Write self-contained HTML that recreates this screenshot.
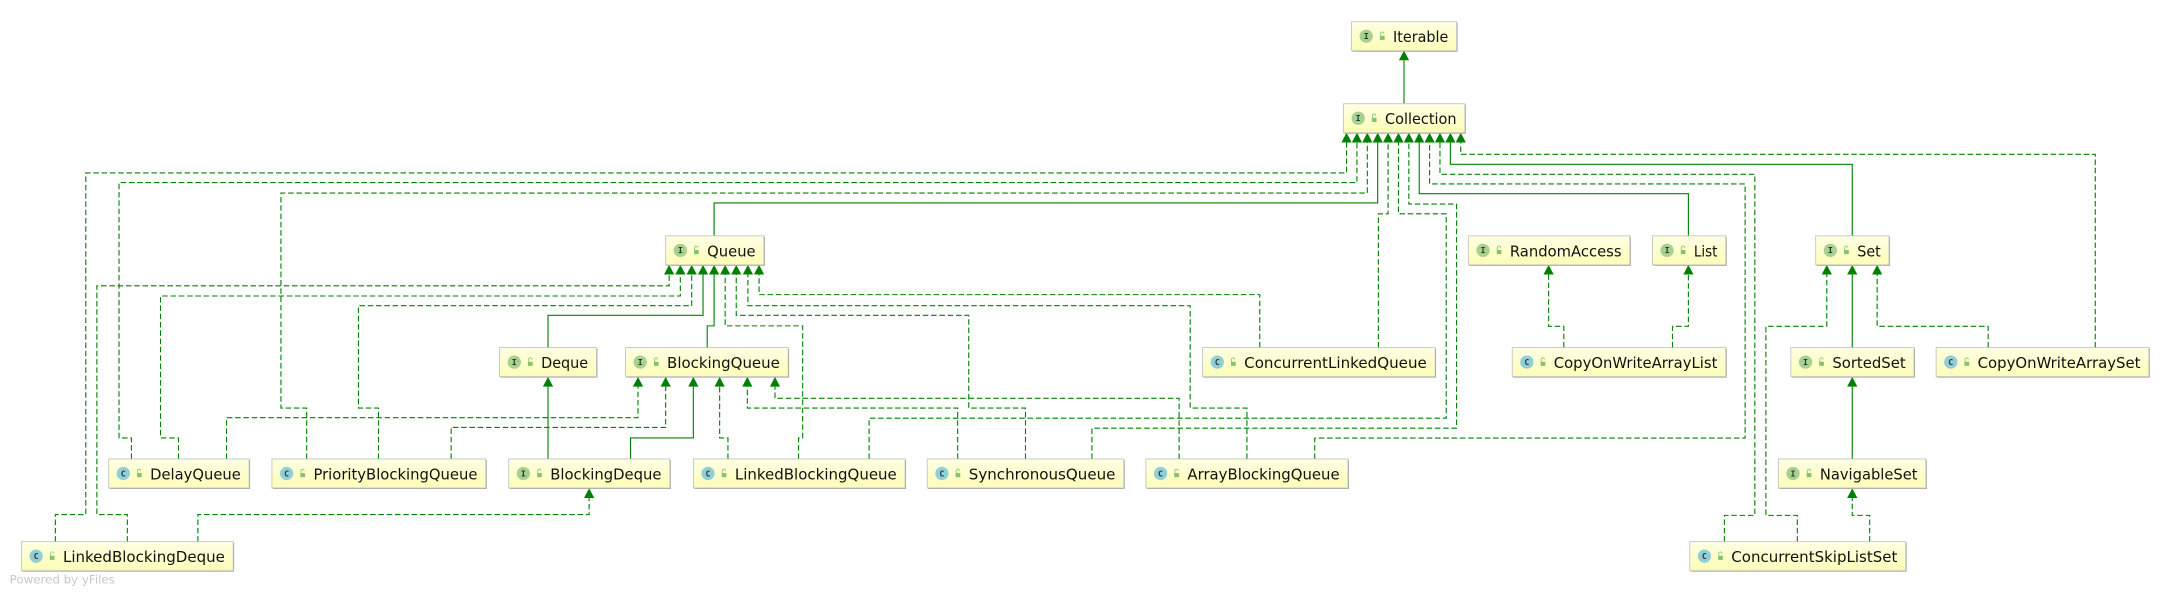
<!DOCTYPE html>
<html><head><meta charset="utf-8"><style>
html,body{margin:0;padding:0;background:#fff;}
svg{display:block;}
.n{font-family:"DejaVu Sans","Liberation Sans",sans-serif;font-size:11px;fill:#111;}
.ic{font-family:"DejaVu Sans Mono","Liberation Mono",monospace;font-size:6px;fill:#333;text-anchor:middle;font-weight:bold;}
.s{fill:none;stroke:#008000;stroke-width:0.8;}
.d{fill:none;stroke:#008000;stroke-width:0.8;stroke-dasharray:4 2;}
.a{fill:#008000;}
</style></head><body>
<svg width="2170" height="592" viewBox="0 0 1568 428" preserveAspectRatio="none" xmlns="http://www.w3.org/2000/svg">
<defs>
<linearGradient id="g" x1="0" y1="0" x2="0" y2="1"><stop offset="0" stop-color="#ffffe4"/><stop offset="1" stop-color="#fdfdb8"/></linearGradient>
</defs>

<!-- edges -->
<polyline class="s" points="1014.5,75 1014.5,43.6"/>
<!-- to Collection -->
<polyline class="d" points="40,391.6 40,372 62,372 62,125 973,125 973,103"/>
<polyline class="d" points="95,331.8 95,316.6 86,316.6 86,132 980.5,132 980.5,103"/>
<polyline class="d" points="221.6,331.8 221.6,295 203,295 203,139.6 988,139.6 988,103"/>
<polyline class="s" points="516,170.5 516,146.7 995.5,146.7 995.5,103"/>
<polyline class="d" points="996,251.3 996,154.6 1003,154.6 1003,103"/>
<polyline class="d" points="628,331.8 628,302.3 1045,302.3 1045,154.6 1010.5,154.6 1010.5,103"/>
<polyline class="d" points="789,331.8 789,309.6 1052.5,309.6 1052.5,147.5 1018,147.5 1018,103"/>
<polyline class="s" points="1220,170.5 1220,140 1025.5,140 1025.5,103"/>
<polyline class="d" points="950,331.8 950,316.7 1261,316.7 1261,133 1033,133 1033,103"/>
<polyline class="d" points="1246,391.6 1246,372.6 1268,372.6 1268,126 1040.5,126 1040.5,103"/>
<polyline class="s" points="1338.4,170.5 1338.4,118.8 1048,118.8 1048,103"/>
<polyline class="d" points="1514,251.3 1514,111.6 1055.5,111.6 1055.5,103"/>
<!-- to Queue -->
<polyline class="d" points="92,391.6 92,372 70,372 70,206.6 483.5,206.6 483.5,198.5"/>
<polyline class="d" points="129,331.8 129,316.6 116,316.6 116,214 491.6,214 491.6,198.5"/>
<polyline class="d" points="273.5,331.8 273.5,295 259,295 259,221 499.8,221 499.8,198.5"/>
<polyline class="s" points="396,251.3 396,228 508,228 508,198.5"/>
<polyline class="s" points="511,251.3 511,235.6 516,235.6 516,198.5"/>
<polyline class="d" points="577,331.8 577,316.6 580,316.6 580,235.6 524,235.6 524,198.5"/>
<polyline class="d" points="741,331.8 741,295 700,295 700,228 532,228 532,198.5"/>
<polyline class="d" points="901,331.8 901,295 860,295 860,221 540.4,221 540.4,198.5"/>
<polyline class="d" points="910.3,251.3 910.3,213 548.5,213 548.5,198.5"/>
<!-- to BlockingQueue -->
<polyline class="d" points="163.7,331.8 163.7,302 461,302 461,279.5"/>
<polyline class="d" points="326,331.8 326,309 481,309 481,279.5"/>
<polyline class="s" points="455.6,331.8 455.6,316.6 501,316.6 501,279.5"/>
<polyline class="d" points="526,331.8 526,316.6 520,316.6 520,279.5"/>
<polyline class="d" points="692,331.8 692,295 540,295 540,279.5"/>
<polyline class="d" points="852,331.8 852,288 560,288 560,279.5"/>
<!-- Deque, BlockingDeque -->
<polyline class="s" points="396,331.8 396,279.5"/>
<polyline class="d" points="143,391.6 143,372 425.7,372 425.7,360"/>
<!-- RandomAccess, List -->
<polyline class="d" points="1130,251.3 1130,235.9 1119,235.9 1119,198.5"/>
<polyline class="d" points="1208.5,251.3 1208.5,235.9 1220,235.9 1220,198.5"/>
<!-- Set -->
<polyline class="d" points="1298.7,391.6 1298.7,372.6 1276,372.6 1276,235.9 1320,235.9 1320,198.5"/>
<polyline class="s" points="1338.4,251.3 1338.4,198.5"/>
<polyline class="d" points="1436.6,251.3 1436.6,235.9 1356.4,235.9 1356.4,198.5"/>
<polyline class="s" points="1338.4,331.8 1338.4,279.5"/>
<polyline class="d" points="1351,391.6 1351,372.6 1338.4,372.6 1338.4,360"/>

<!-- arrowheads -->
<g class="a">
<path d="M1014.5,36.6 l-3.7,7 h7.4z"/>
<path d="M973,96 l-3.7,7 h7.4z"/><path d="M980.5,96 l-3.7,7 h7.4z"/><path d="M988,96 l-3.7,7 h7.4z"/><path d="M995.5,96 l-3.7,7 h7.4z"/><path d="M1003,96 l-3.7,7 h7.4z"/><path d="M1010.5,96 l-3.7,7 h7.4z"/><path d="M1018,96 l-3.7,7 h7.4z"/><path d="M1025.5,96 l-3.7,7 h7.4z"/><path d="M1033,96 l-3.7,7 h7.4z"/><path d="M1040.5,96 l-3.7,7 h7.4z"/><path d="M1048,96 l-3.7,7 h7.4z"/><path d="M1055.5,96 l-3.7,7 h7.4z"/>
<path d="M483.5,191.5 l-3.7,7 h7.4z"/><path d="M491.6,191.5 l-3.7,7 h7.4z"/><path d="M499.8,191.5 l-3.7,7 h7.4z"/><path d="M508,191.5 l-3.7,7 h7.4z"/><path d="M516,191.5 l-3.7,7 h7.4z"/><path d="M524,191.5 l-3.7,7 h7.4z"/><path d="M532,191.5 l-3.7,7 h7.4z"/><path d="M540.4,191.5 l-3.7,7 h7.4z"/><path d="M548.5,191.5 l-3.7,7 h7.4z"/>
<path d="M461,272.5 l-3.7,7 h7.4z"/><path d="M481,272.5 l-3.7,7 h7.4z"/><path d="M501,272.5 l-3.7,7 h7.4z"/><path d="M520,272.5 l-3.7,7 h7.4z"/><path d="M540,272.5 l-3.7,7 h7.4z"/><path d="M560,272.5 l-3.7,7 h7.4z"/>
<path d="M396,272.5 l-3.7,7 h7.4z"/>
<path d="M425.7,353 l-3.7,7 h7.4z"/>
<path d="M1119,191.5 l-3.7,7 h7.4z"/><path d="M1220,191.5 l-3.7,7 h7.4z"/>
<path d="M1320,191.5 l-3.7,7 h7.4z"/><path d="M1338.4,191.5 l-3.7,7 h7.4z"/><path d="M1356.4,191.5 l-3.7,7 h7.4z"/>
<path d="M1338.4,272.5 l-3.7,7 h7.4z"/>
<path d="M1338.4,353 l-3.7,7 h7.4z"/>
</g>

<!-- nodes -->
<g id="nodes"></g>
<g>
<!-- template per node -->
<g transform="translate(976.6,15.7)"><rect x="0.7" y="0.7" width="75.9" height="21" fill="#a0a0a0"/><rect width="75.9" height="21" fill="url(#g)" stroke="#c0c0c0" stroke-width="0.6"/><circle cx="10.6" cy="10.5" r="4.8" fill="#a7d18e"/><text class="ic" x="10.6" y="12.6">I</text><rect x="20.5" y="10.2" width="3.4" height="3" fill="#86c46a"/><path d="M20.9,10.2 v-1.6 a1.2,1.2 0 0 1 2.4,0" fill="none" stroke="#86c46a" stroke-width="0.6"/><text class="n" x="30" y="14.8" textLength="39.9" lengthAdjust="spacingAndGlyphs">Iterable</text></g>

<g transform="translate(970.8,75)"><rect x="0.7" y="0.7" width="87.7" height="21" fill="#a0a0a0"/><rect width="87.7" height="21" fill="url(#g)" stroke="#c0c0c0" stroke-width="0.6"/><circle cx="10.6" cy="10.5" r="4.8" fill="#a7d18e"/><text class="ic" x="10.6" y="12.6">I</text><rect x="20.5" y="10.2" width="3.4" height="3" fill="#86c46a"/><path d="M20.9,10.2 v-1.6 a1.2,1.2 0 0 1 2.4,0" fill="none" stroke="#86c46a" stroke-width="0.6"/><text class="n" x="30" y="14.8" textLength="51.7" lengthAdjust="spacingAndGlyphs">Collection</text></g>

<g transform="translate(481,170.5)"><rect x="0.7" y="0.7" width="71" height="21" fill="#a0a0a0"/><rect width="71" height="21" fill="url(#g)" stroke="#c0c0c0" stroke-width="0.6"/><circle cx="10.6" cy="10.5" r="4.8" fill="#a7d18e"/><text class="ic" x="10.6" y="12.6">I</text><rect x="20.5" y="10.2" width="3.4" height="3" fill="#86c46a"/><path d="M20.9,10.2 v-1.6 a1.2,1.2 0 0 1 2.4,0" fill="none" stroke="#86c46a" stroke-width="0.6"/><text class="n" x="30" y="14.8" textLength="35" lengthAdjust="spacingAndGlyphs">Queue</text></g>

<g transform="translate(1061,170.5)"><rect x="0.7" y="0.7" width="116.7" height="21" fill="#a0a0a0"/><rect width="116.7" height="21" fill="url(#g)" stroke="#c0c0c0" stroke-width="0.6"/><circle cx="10.6" cy="10.5" r="4.8" fill="#a7d18e"/><text class="ic" x="10.6" y="12.6">I</text><rect x="20.5" y="10.2" width="3.4" height="3" fill="#86c46a"/><path d="M20.9,10.2 v-1.6 a1.2,1.2 0 0 1 2.4,0" fill="none" stroke="#86c46a" stroke-width="0.6"/><text class="n" x="30" y="14.8" textLength="80.7" lengthAdjust="spacingAndGlyphs">RandomAccess</text></g>

<g transform="translate(1194,170.5)"><rect x="0.7" y="0.7" width="53" height="21" fill="#a0a0a0"/><rect width="53" height="21" fill="url(#g)" stroke="#c0c0c0" stroke-width="0.6"/><circle cx="10.6" cy="10.5" r="4.8" fill="#a7d18e"/><text class="ic" x="10.6" y="12.6">I</text><rect x="20.5" y="10.2" width="3.4" height="3" fill="#86c46a"/><path d="M20.9,10.2 v-1.6 a1.2,1.2 0 0 1 2.4,0" fill="none" stroke="#86c46a" stroke-width="0.6"/><text class="n" x="30" y="14.8" textLength="17" lengthAdjust="spacingAndGlyphs">List</text></g>

<g transform="translate(1312,170.5)"><rect x="0.7" y="0.7" width="53" height="21" fill="#a0a0a0"/><rect width="53" height="21" fill="url(#g)" stroke="#c0c0c0" stroke-width="0.6"/><circle cx="10.6" cy="10.5" r="4.8" fill="#a7d18e"/><text class="ic" x="10.6" y="12.6">I</text><rect x="20.5" y="10.2" width="3.4" height="3" fill="#86c46a"/><path d="M20.9,10.2 v-1.6 a1.2,1.2 0 0 1 2.4,0" fill="none" stroke="#86c46a" stroke-width="0.6"/><text class="n" x="30" y="14.8" textLength="17" lengthAdjust="spacingAndGlyphs">Set</text></g>

<g transform="translate(361,251.3)"><rect x="0.7" y="0.7" width="70" height="21" fill="#a0a0a0"/><rect width="70" height="21" fill="url(#g)" stroke="#c0c0c0" stroke-width="0.6"/><circle cx="10.6" cy="10.5" r="4.8" fill="#a7d18e"/><text class="ic" x="10.6" y="12.6">I</text><rect x="20.5" y="10.2" width="3.4" height="3" fill="#86c46a"/><path d="M20.9,10.2 v-1.6 a1.2,1.2 0 0 1 2.4,0" fill="none" stroke="#86c46a" stroke-width="0.6"/><text class="n" x="30" y="14.8" textLength="34" lengthAdjust="spacingAndGlyphs">Deque</text></g>

<g transform="translate(452,251.3)"><rect x="0.7" y="0.7" width="117.5" height="21" fill="#a0a0a0"/><rect width="117.5" height="21" fill="url(#g)" stroke="#c0c0c0" stroke-width="0.6"/><circle cx="10.6" cy="10.5" r="4.8" fill="#a7d18e"/><text class="ic" x="10.6" y="12.6">I</text><rect x="20.5" y="10.2" width="3.4" height="3" fill="#86c46a"/><path d="M20.9,10.2 v-1.6 a1.2,1.2 0 0 1 2.4,0" fill="none" stroke="#86c46a" stroke-width="0.6"/><text class="n" x="30" y="14.8" textLength="81.5" lengthAdjust="spacingAndGlyphs">BlockingQueue</text></g>

<g transform="translate(869,251.3)"><rect x="0.7" y="0.7" width="168" height="21" fill="#a0a0a0"/><rect width="168" height="21" fill="url(#g)" stroke="#c0c0c0" stroke-width="0.6"/><circle cx="10.6" cy="10.5" r="4.8" fill="#8fd0d8"/><text class="ic" x="10.6" y="12.6">C</text><rect x="20.5" y="10.2" width="3.4" height="3" fill="#86c46a"/><path d="M20.9,10.2 v-1.6 a1.2,1.2 0 0 1 2.4,0" fill="none" stroke="#86c46a" stroke-width="0.6"/><text class="n" x="30" y="14.8" textLength="132" lengthAdjust="spacingAndGlyphs">ConcurrentLinkedQueue</text></g>

<g transform="translate(1092.7,251.3)"><rect x="0.7" y="0.7" width="154.3" height="21" fill="#a0a0a0"/><rect width="154.3" height="21" fill="url(#g)" stroke="#c0c0c0" stroke-width="0.6"/><circle cx="10.6" cy="10.5" r="4.8" fill="#8fd0d8"/><text class="ic" x="10.6" y="12.6">C</text><rect x="20.5" y="10.2" width="3.4" height="3" fill="#86c46a"/><path d="M20.9,10.2 v-1.6 a1.2,1.2 0 0 1 2.4,0" fill="none" stroke="#86c46a" stroke-width="0.6"/><text class="n" x="30" y="14.8" textLength="118.3" lengthAdjust="spacingAndGlyphs">CopyOnWriteArrayList</text></g>

<g transform="translate(1294,251.3)"><rect x="0.7" y="0.7" width="89" height="21" fill="#a0a0a0"/><rect width="89" height="21" fill="url(#g)" stroke="#c0c0c0" stroke-width="0.6"/><circle cx="10.6" cy="10.5" r="4.8" fill="#a7d18e"/><text class="ic" x="10.6" y="12.6">I</text><rect x="20.5" y="10.2" width="3.4" height="3" fill="#86c46a"/><path d="M20.9,10.2 v-1.6 a1.2,1.2 0 0 1 2.4,0" fill="none" stroke="#86c46a" stroke-width="0.6"/><text class="n" x="30" y="14.8" textLength="53" lengthAdjust="spacingAndGlyphs">SortedSet</text></g>

<g transform="translate(1399,251.3)"><rect x="0.7" y="0.7" width="153.7" height="21" fill="#a0a0a0"/><rect width="153.7" height="21" fill="url(#g)" stroke="#c0c0c0" stroke-width="0.6"/><circle cx="10.6" cy="10.5" r="4.8" fill="#8fd0d8"/><text class="ic" x="10.6" y="12.6">C</text><rect x="20.5" y="10.2" width="3.4" height="3" fill="#86c46a"/><path d="M20.9,10.2 v-1.6 a1.2,1.2 0 0 1 2.4,0" fill="none" stroke="#86c46a" stroke-width="0.6"/><text class="n" x="30" y="14.8" textLength="117.7" lengthAdjust="spacingAndGlyphs">CopyOnWriteArraySet</text></g>

<g transform="translate(78.5,331.8)"><rect x="0.7" y="0.7" width="101.5" height="21" fill="#a0a0a0"/><rect width="101.5" height="21" fill="url(#g)" stroke="#c0c0c0" stroke-width="0.6"/><circle cx="10.6" cy="10.5" r="4.8" fill="#8fd0d8"/><text class="ic" x="10.6" y="12.6">C</text><rect x="20.5" y="10.2" width="3.4" height="3" fill="#86c46a"/><path d="M20.9,10.2 v-1.6 a1.2,1.2 0 0 1 2.4,0" fill="none" stroke="#86c46a" stroke-width="0.6"/><text class="n" x="30" y="14.8" textLength="65.5" lengthAdjust="spacingAndGlyphs">DelayQueue</text></g>

<g transform="translate(196.5,331.8)"><rect x="0.7" y="0.7" width="154.5" height="21" fill="#a0a0a0"/><rect width="154.5" height="21" fill="url(#g)" stroke="#c0c0c0" stroke-width="0.6"/><circle cx="10.6" cy="10.5" r="4.8" fill="#8fd0d8"/><text class="ic" x="10.6" y="12.6">C</text><rect x="20.5" y="10.2" width="3.4" height="3" fill="#86c46a"/><path d="M20.9,10.2 v-1.6 a1.2,1.2 0 0 1 2.4,0" fill="none" stroke="#86c46a" stroke-width="0.6"/><text class="n" x="30" y="14.8" textLength="118.5" lengthAdjust="spacingAndGlyphs">PriorityBlockingQueue</text></g>

<g transform="translate(367.6,331.8)"><rect x="0.7" y="0.7" width="116.4" height="21" fill="#a0a0a0"/><rect width="116.4" height="21" fill="url(#g)" stroke="#c0c0c0" stroke-width="0.6"/><circle cx="10.6" cy="10.5" r="4.8" fill="#a7d18e"/><text class="ic" x="10.6" y="12.6">I</text><rect x="20.5" y="10.2" width="3.4" height="3" fill="#86c46a"/><path d="M20.9,10.2 v-1.6 a1.2,1.2 0 0 1 2.4,0" fill="none" stroke="#86c46a" stroke-width="0.6"/><text class="n" x="30" y="14.8" textLength="80.4" lengthAdjust="spacingAndGlyphs">BlockingDeque</text></g>

<g transform="translate(501,331.8)"><rect x="0.7" y="0.7" width="153" height="21" fill="#a0a0a0"/><rect width="153" height="21" fill="url(#g)" stroke="#c0c0c0" stroke-width="0.6"/><circle cx="10.6" cy="10.5" r="4.8" fill="#8fd0d8"/><text class="ic" x="10.6" y="12.6">C</text><rect x="20.5" y="10.2" width="3.4" height="3" fill="#86c46a"/><path d="M20.9,10.2 v-1.6 a1.2,1.2 0 0 1 2.4,0" fill="none" stroke="#86c46a" stroke-width="0.6"/><text class="n" x="30" y="14.8" textLength="117" lengthAdjust="spacingAndGlyphs">LinkedBlockingQueue</text></g>

<g transform="translate(670,331.8)"><rect x="0.7" y="0.7" width="142" height="21" fill="#a0a0a0"/><rect width="142" height="21" fill="url(#g)" stroke="#c0c0c0" stroke-width="0.6"/><circle cx="10.6" cy="10.5" r="4.8" fill="#8fd0d8"/><text class="ic" x="10.6" y="12.6">C</text><rect x="20.5" y="10.2" width="3.4" height="3" fill="#86c46a"/><path d="M20.9,10.2 v-1.6 a1.2,1.2 0 0 1 2.4,0" fill="none" stroke="#86c46a" stroke-width="0.6"/><text class="n" x="30" y="14.8" textLength="106" lengthAdjust="spacingAndGlyphs">SynchronousQueue</text></g>

<g transform="translate(828,331.8)"><rect x="0.7" y="0.7" width="146" height="21" fill="#a0a0a0"/><rect width="146" height="21" fill="url(#g)" stroke="#c0c0c0" stroke-width="0.6"/><circle cx="10.6" cy="10.5" r="4.8" fill="#8fd0d8"/><text class="ic" x="10.6" y="12.6">C</text><rect x="20.5" y="10.2" width="3.4" height="3" fill="#86c46a"/><path d="M20.9,10.2 v-1.6 a1.2,1.2 0 0 1 2.4,0" fill="none" stroke="#86c46a" stroke-width="0.6"/><text class="n" x="30" y="14.8" textLength="110" lengthAdjust="spacingAndGlyphs">ArrayBlockingQueue</text></g>

<g transform="translate(1285,331.8)"><rect x="0.7" y="0.7" width="106.6" height="21" fill="#a0a0a0"/><rect width="106.6" height="21" fill="url(#g)" stroke="#c0c0c0" stroke-width="0.6"/><circle cx="10.6" cy="10.5" r="4.8" fill="#a7d18e"/><text class="ic" x="10.6" y="12.6">I</text><rect x="20.5" y="10.2" width="3.4" height="3" fill="#86c46a"/><path d="M20.9,10.2 v-1.6 a1.2,1.2 0 0 1 2.4,0" fill="none" stroke="#86c46a" stroke-width="0.6"/><text class="n" x="30" y="14.8" textLength="70.6" lengthAdjust="spacingAndGlyphs">NavigableSet</text></g>

<g transform="translate(15.5,391.6)"><rect x="0.7" y="0.7" width="153" height="21" fill="#a0a0a0"/><rect width="153" height="21" fill="url(#g)" stroke="#c0c0c0" stroke-width="0.6"/><circle cx="10.6" cy="10.5" r="4.8" fill="#8fd0d8"/><text class="ic" x="10.6" y="12.6">C</text><rect x="20.5" y="10.2" width="3.4" height="3" fill="#86c46a"/><path d="M20.9,10.2 v-1.6 a1.2,1.2 0 0 1 2.4,0" fill="none" stroke="#86c46a" stroke-width="0.6"/><text class="n" x="30" y="14.8" textLength="117" lengthAdjust="spacingAndGlyphs">LinkedBlockingDeque</text></g>

<g transform="translate(1221,391.6)"><rect x="0.7" y="0.7" width="156" height="21" fill="#a0a0a0"/><rect width="156" height="21" fill="url(#g)" stroke="#c0c0c0" stroke-width="0.6"/><circle cx="10.6" cy="10.5" r="4.8" fill="#8fd0d8"/><text class="ic" x="10.6" y="12.6">C</text><rect x="20.5" y="10.2" width="3.4" height="3" fill="#86c46a"/><path d="M20.9,10.2 v-1.6 a1.2,1.2 0 0 1 2.4,0" fill="none" stroke="#86c46a" stroke-width="0.6"/><text class="n" x="30" y="14.8" textLength="120" lengthAdjust="spacingAndGlyphs">ConcurrentSkipListSet</text></g>
</g>

<text x="7" y="422" font-family="DejaVu Sans, Liberation Sans, sans-serif" font-size="8" fill="#c8c8c8" textLength="76" lengthAdjust="spacingAndGlyphs">Powered by yFiles</text>
</svg>
</body></html>
